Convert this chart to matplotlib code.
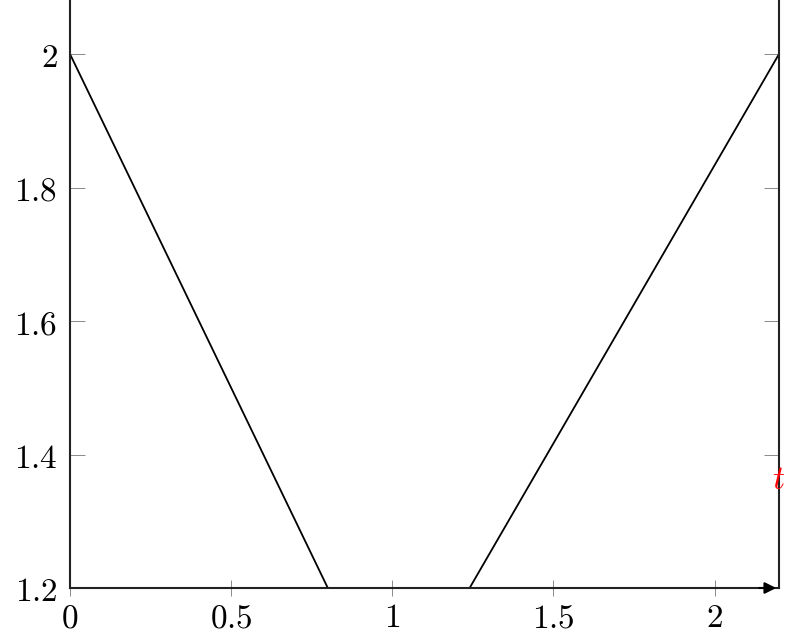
import matplotlib
matplotlib.use("Agg")
import matplotlib.pyplot as plt

# data
left_t = [0, 0.8]
left_y = [2.0, 1.2]
right_t = [1.24, 2.2]
right_y = [1.2, 2.0]
xticks = [0, 0.5, 1, 1.5, 2]
yticks = [1.2, 1.4, 1.6, 1.8, 2.0]
xtick_labels = ["0", "0.5", "1", "1.5", "2"]
ytick_labels = ["1.2", "1.4", "1.6", "1.8", "2"]

plt.rcParams["mathtext.fontset"] = "cm"

fig = plt.figure(figsize=(7.99, 6.37), dpi=100)
ax = fig.add_axes([70 / 799, 1 - 588 / 637, (779 - 70) / 799, 588 / 637])

ax.plot(left_t, left_y, color="black", lw=1.3)
ax.plot(right_t, right_y, color="black", lw=1.3)

ax.set_xlim(0, 2.2)
ax.set_ylim(1.2, 2.081)

ax.spines["top"].set_visible(False)
for s in ["left", "right", "bottom"]:
    ax.spines[s].set_linewidth(1.5)
    ax.spines[s].set_color("#222222")

ax.set_xticks(xticks)
ax.set_xticklabels([f"${s}$" for s in xtick_labels])
ax.set_yticks(yticks)
ax.set_yticklabels([f"${s}$" for s in ytick_labels])
ax.tick_params(axis="x", direction="inout", length=11, width=0.6, color="#777777",
               labelsize=24, pad=4)
ax.tick_params(axis="y", direction="in", length=11, width=0.6, color="#777777",
               labelsize=24, pad=9, right=True)

# arrow at the end of the t axis
ax.annotate("", xy=(2.2, 1.2), xytext=(2.13, 1.2),
            arrowprops=dict(arrowstyle="-|>", color="black", lw=1.5, mutation_scale=17),
            annotation_clip=False)

ax.text(2.2, 1.362, "$t$", color="red", fontsize=24, ha="center", va="center")

fig.savefig("out.png", dpi=100)
